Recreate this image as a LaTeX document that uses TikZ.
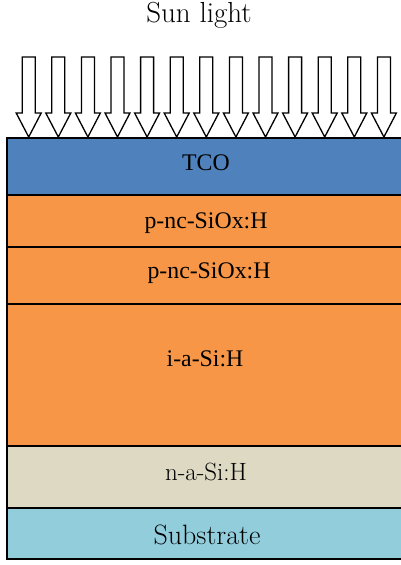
\documentclass[tikz,border=0pt]{standalone}
\usepackage{fontspec}
\newfontfamily\timesfont{Liberation Serif}
\definecolor{tcoblue}{HTML}{4F81BD}
\definecolor{porange}{HTML}{F79646}
\definecolor{nbeige}{HTML}{DDD9C3}
\definecolor{subcyan}{HTML}{92CDDC}
\begin{document}
\begin{tikzpicture}[x=1pt,y=-1pt]
\tikzset{
  layer/.style={draw=black, line width=1.4pt},
  ray/.style={draw=black, fill=white, line width=1.3pt, line join=miter},
  tlabel/.style={font=\timesfont\fontsize{23.8}{28}\selectfont, inner sep=0pt},
  clabel/.style={inner sep=0pt},
}
\useasboundingbox (0,0) rectangle (401,565);
\fill[white] (0,0) rectangle (401,565);

% incoming light: thirteen hollow arrows
\foreach \i in {0,...,12} {
  \pgfmathsetmacro\cx{28.7+29.6*\i}
  \draw[ray] (\cx-6.5,57) -- (\cx+6.5,57) -- (\cx+6.5,113) -- (\cx+12.5,113)
    -- (\cx,137) -- (\cx-12.5,113) -- (\cx-6.5,113) -- cycle;
}

% layer stack, running past the right edge of the page
\begin{scope}
\clip (0,0) rectangle (401,565);
\path[layer, fill=tcoblue] (7,138) rectangle (405,195);
\path[layer, fill=porange] (7,195) rectangle (405,247);
\path[layer, fill=porange] (7,247) rectangle (405,304);
\path[layer, fill=porange] (7,304) rectangle (405,446);
\path[layer, fill=nbeige]  (7,446) rectangle (405,508);
\path[layer, fill=subcyan] (7,508) rectangle (405,559);
\end{scope}

% labels
\node[clabel, font=\fontsize{29}{34}\selectfont] (sun) at (199,15) {Sun light};
\node[tlabel] (tco) at (206,162.5) {TCO};
\node[tlabel] (p1) at (206,223) {p-nc-SiOx:H};
\node[tlabel] (p2) at (209,273.5) {p-nc-SiOx:H};
\node[tlabel] (ia) at (205,359) {i-a-Si:H};
\node[clabel, font=\fontsize{25}{30}\selectfont] (na) at (206,471.5) {n-a-Si:H};
\node[clabel, font=\fontsize{28}{33}\selectfont] (sub) at (207,534.5) {Substrate};
\end{tikzpicture}
\end{document}
